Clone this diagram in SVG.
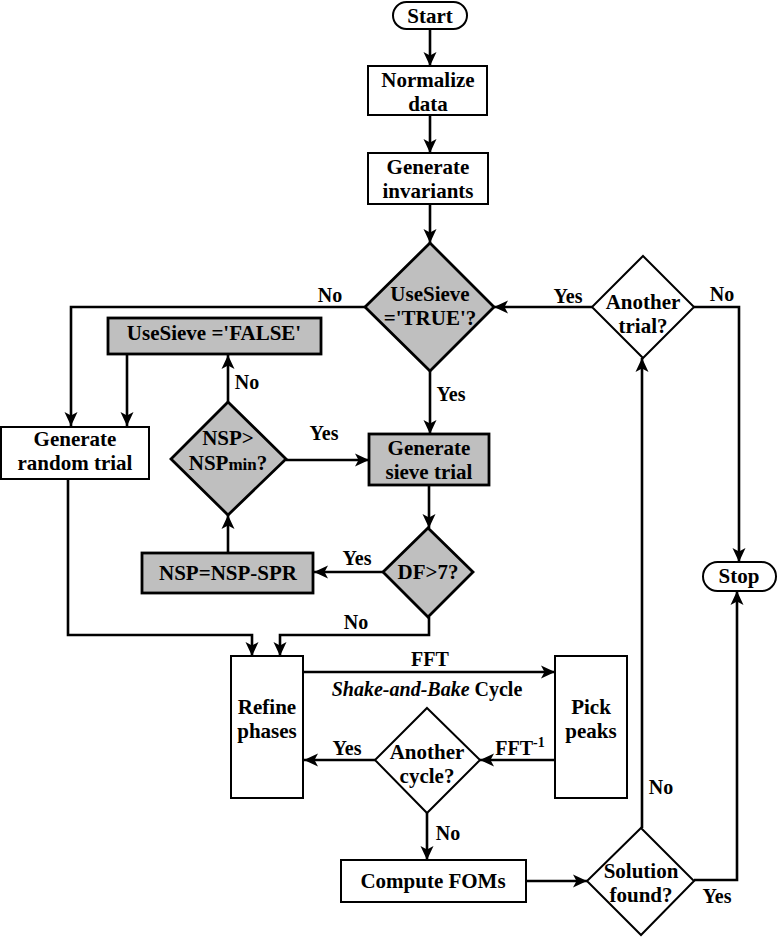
<svg xmlns="http://www.w3.org/2000/svg" width="778" height="938" viewBox="0 0 778 938">
<defs>
<marker id="ah" markerUnits="userSpaceOnUse" markerWidth="16" markerHeight="16" viewBox="0 0 16 16" refX="15" refY="8" orient="auto">
<path d="M1,1.5 L15,8 L1,14.5 L4.5,8 Z" fill="#000"/>
</marker>
<style>
text{font-family:"Liberation Serif","Times New Roman",serif;font-weight:bold;fill:#000;text-anchor:middle}
.t{font-size:21px}
.l{font-size:20px}
.w{fill:#fff;stroke:#000;stroke-width:2}
.g{fill:#bfbfbf;stroke:#000;stroke-width:2.8}
.c{fill:none;stroke:#000;stroke-width:2.6}
.a{marker-end:url(#ah)}
</style>
</defs>
<rect width="778" height="938" fill="#fff"/>
<g id="connectors">
<path class="c a" d="M430,29 V66"/>
<path class="c a" d="M430,115 V153"/>
<path class="c a" d="M430,204 V243"/>
<path class="c a" d="M365,307 H71 V426"/>
<path class="c a" d="M127,354 V426"/>
<path class="c a" d="M228,402 V355"/>
<path class="c a" d="M286,460 H369"/>
<path class="c a" d="M430,371 V434"/>
<path class="c a" d="M429,485 V528"/>
<path class="c a" d="M383,572 H314"/>
<path class="c a" d="M228,553 V515"/>
<path class="c a" d="M429,617 V635 H280 V656"/>
<path class="c a" d="M68,479 V635 H252 V656"/>
<path class="c a" d="M303,672 H555"/>
<path class="c a" d="M555,760 H480"/>
<path class="c a" d="M375,760 H304"/>
<path class="c a" d="M427,813 V860"/>
<path class="c a" d="M526,881 H587"/>
<path class="c a" d="M694,880 H737 V591"/>
<path class="c a" d="M642,828 V358"/>
<path class="c a" d="M592,307 H494"/>
<path class="c a" d="M694,307 H739 V562"/>
</g>
<g id="labels">
<text class="l" x="330" y="302">No</text>
<text class="l" x="247" y="389">No</text>
<text class="l" x="324" y="440">Yes</text>
<text class="l" x="451" y="401">Yes</text>
<text class="l" x="568" y="303">Yes</text>
<text class="l" x="722" y="301">No</text>
<text class="l" x="357" y="565">Yes</text>
<text class="l" x="356" y="629">No</text>
<text class="l" x="430" y="666">FFT</text>
<text class="l" x="427" y="696"><tspan font-style="italic">Shake-and-Bake</tspan> Cycle</text>
<text class="l" x="520" y="755">FFT<tspan font-size="14" dy="-8">-1</tspan></text>
<text class="l" x="347" y="755">Yes</text>
<text class="l" x="448" y="840">No</text>
<text class="l" x="717" y="903">Yes</text>
<text class="l" x="661" y="794">No</text>
</g>
<g id="start"><rect class="w" x="393" y="2" width="74" height="27" rx="13.5"/><text class="t" x="430" y="23">Start</text></g>
<g id="normalize"><rect class="w" x="368" y="66" width="119" height="49"/><text class="t" x="428" y="87">Normalize</text><text class="t" x="428" y="111">data</text></g>
<g id="invariants"><rect class="w" x="368" y="153" width="120" height="51"/><text class="t" x="428" y="174">Generate</text><text class="t" x="428" y="198">invariants</text></g>
<g id="usesieve"><polygon class="g" points="430,243 494,307 430,371 365,307"/><text class="t" x="430" y="301">UseSieve</text><text class="t" x="430" y="325">='TRUE'?</text></g>
<g id="anothertrial"><polygon class="w" points="643,256 694,307 643,358 592,307"/><text class="t" x="643" y="309">Another</text><text class="t" x="643" y="333">trial?</text></g>
<g id="setfalse"><rect class="g" x="108" y="318" width="213" height="36"/><text class="t" x="214" y="340">UseSieve ='FALSE'</text></g>
<g id="randomtrial"><rect class="w" x="1" y="427" width="148" height="52"/><text class="t" x="75" y="446">Generate</text><text class="t" x="75" y="470">random trial</text></g>
<g id="nspmin"><polygon class="g" points="228,402 286,459 228,515 171,459"/><text class="t" x="228" y="445">NSP&gt;</text><text class="t" x="228" y="470">NSP<tspan font-size="17">min</tspan>?</text></g>
<g id="sievetrial"><rect class="g" x="369" y="434" width="120" height="51"/><text class="t" x="429" y="455">Generate</text><text class="t" x="429" y="479">sieve trial</text></g>
<g id="df"><polygon class="g" points="428,528 473,572 428,617 383,572"/><text class="t" x="428" y="579">DF&gt;7?</text></g>
<g id="nspspr"><rect class="g" x="142" y="553" width="171" height="40"/><text class="t" x="228" y="580">NSP=NSP-SPR</text></g>
<g id="stop"><rect class="w" x="703" y="562" width="73" height="29" rx="14.5"/><text class="t" x="739" y="583">Stop</text></g>
<g id="refine"><rect class="w" x="231" y="656" width="72" height="142"/><text class="t" x="267" y="714">Refine</text><text class="t" x="267" y="738">phases</text></g>
<g id="pickpeaks"><rect class="w" x="555" y="656" width="72" height="142"/><text class="t" x="591" y="714">Pick</text><text class="t" x="591" y="738">peaks</text></g>
<g id="anothercycle"><polygon class="w" points="427,708 480,760 427,813 375,760"/><text class="t" x="427" y="759">Another</text><text class="t" x="427" y="783">cycle?</text></g>
<g id="computefoms"><rect class="w" x="341" y="860" width="185" height="42"/><text class="t" x="433" y="888">Compute FOMs</text></g>
<g id="solution"><polygon class="w" points="641,828 694,881 641,935 587,881"/><text class="t" x="641" y="878">Solution</text><text class="t" x="641" y="902">found?</text></g>
</svg>
